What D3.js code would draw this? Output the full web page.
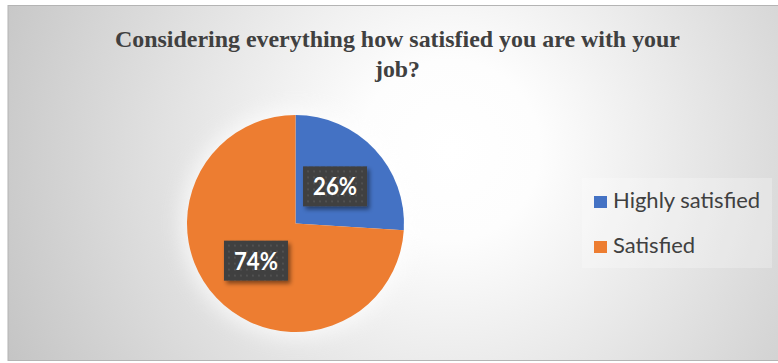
<!DOCTYPE html>
<html>
<head>
<meta charset="utf-8">
<script src="https://cdn.jsdelivr.net/npm/d3@7"></script>
<style>
  html, body { margin: 0; padding: 0; background: #ffffff; }
  svg { display: block; }
</style>
</head>
<body>
<svg id="chart" width="778" height="363"></svg>
<script>
// Survey answers and their shares
const categories = ["Highly satisfied", "Satisfied"];
const shares = [26, 74];
const sliceColors = ["#4472c4", "#ed7d31"];
const titleLines = ["Considering everything how satisfied you are with your", "job?"];

const svg = d3.select("#chart");
const defs = svg.append("defs");

// Radial backdrop: white near the middle, grey toward the corners
const bg = defs.append("radialGradient")
  .attr("id", "bgGrad")
  .attr("gradientUnits", "userSpaceOnUse")
  .attr("cx", 450).attr("cy", 150).attr("r", 500);
bg.append("stop").attr("offset", 0).attr("stop-color", "#ffffff");
bg.append("stop").attr("offset", 0.18).attr("stop-color", "#fdfdfd");
bg.append("stop").attr("offset", 1).attr("stop-color", "#c3c3c3");

// Dotted dark fill for the value labels
const pat = defs.append("pattern")
  .attr("id", "dots")
  .attr("patternUnits", "userSpaceOnUse")
  .attr("width", 6).attr("height", 6);
pat.append("rect").attr("width", 6).attr("height", 6).attr("fill", "#3f3f3f");
pat.append("circle").attr("cx", 3).attr("cy", 3).attr("r", 1).attr("fill", "#575757");

const shadow = defs.append("filter").attr("id", "shadow")
  .attr("x", "-30%").attr("y", "-30%").attr("width", "170%").attr("height", "170%");
shadow.append("feDropShadow")
  .attr("dx", 2.5).attr("dy", 3).attr("stdDeviation", 2.2)
  .attr("flood-color", "#000").attr("flood-opacity", 0.45);

const glow = defs.append("filter").attr("id", "glow")
  .attr("x", "-50%").attr("y", "-50%").attr("width", "200%").attr("height", "200%");
glow.append("feGaussianBlur").attr("stdDeviation", 10);

// Chart area
svg.append("rect")
  .attr("x", 8).attr("y", 5.5).attr("width", 771).attr("height", 355)
  .attr("fill", "url(#bgGrad)")
  .attr("stroke", "#b4b4b4").attr("stroke-width", 1);

// Title
const title = svg.append("text")
  .attr("text-anchor", "middle")
  .attr("font-family", "'Liberation Serif', 'Times New Roman', serif")
  .attr("font-weight", "bold")
  .attr("font-size", 22.5)
  .attr("fill", "#404040");
const titleLengths = [565, 45];
const titleBaselines = [47, 77];
titleLines.forEach((line, i) => {
  title.append("tspan")
    .attr("x", 397.5).attr("y", titleBaselines[i])
    .attr("textLength", titleLengths[i])
    .attr("lengthAdjust", "spacingAndGlyphs")
    .text(line);
});

// Pie
const cx = 295.5, cy = 223.5, radius = 108.5;
const pieData = categories.map((c, i) => ({ category: c, value: shares[i], color: sliceColors[i] }));
const pie = d3.pie().value(d => d.value).sort(null);
const arcs = pie(pieData);
const arc = d3.arc().innerRadius(0).outerRadius(radius);
const total = d3.sum(shares);

const g = svg.append("g").attr("transform", `translate(${cx},${cy})`);

g.append("circle").attr("r", radius + 6)
  .attr("fill", "#ffffff").attr("opacity", 0.7)
  .attr("filter", "url(#glow)");

g.selectAll("path.slice")
  .data(arcs)
  .join("path")
  .attr("class", "slice")
  .attr("d", arc)
  .attr("fill", d => d.data.color);

// Value labels at the slice centroids
const labelW = 64, labelH = 40;
const labels = g.selectAll("g.label")
  .data(arcs)
  .join("g")
  .attr("class", "label")
  .attr("transform", d => {
    const [x, y] = arc.centroid(d);
    return `translate(${x},${y})`;
  });
labels.append("rect")
  .attr("x", -labelW / 2).attr("y", -labelH / 2)
  .attr("width", labelW).attr("height", labelH)
  .attr("fill", "url(#dots)")
  .attr("filter", "url(#shadow)");
labels.append("text")
  .attr("text-anchor", "middle")
  .attr("y", 9)
  .attr("font-family", "Lato, 'Open Sans', sans-serif")
  .attr("font-weight", "bold")
  .attr("font-size", 25)
  .attr("fill", "#ffffff")
  .attr("textLength", 44)
  .attr("lengthAdjust", "spacingAndGlyphs")
  .text(d => Math.round(d.data.value / total * 100) + "%");

// Legend
const legend = svg.append("g");
legend.append("rect")
  .attr("x", 582).attr("y", 178).attr("width", 190).attr("height", 90)
  .attr("fill", "#ffffff").attr("fill-opacity", 0.25);
const legendY = d3.scalePoint().domain(categories).range([196, 241]);
const items = legend.selectAll("g.item")
  .data(pieData)
  .join("g")
  .attr("class", "item")
  .attr("transform", d => `translate(594,${legendY(d.category)})`);
items.append("rect")
  .attr("width", 13).attr("height", 12)
  .attr("fill", d => d.color);
items.append("text")
  .attr("x", 19).attr("y", 12)
  .attr("font-family", "Lato, 'Open Sans', sans-serif")
  .attr("font-size", 22)
  .attr("fill", "#404040")
  .text(d => d.category);
</script>
</body>
</html>
